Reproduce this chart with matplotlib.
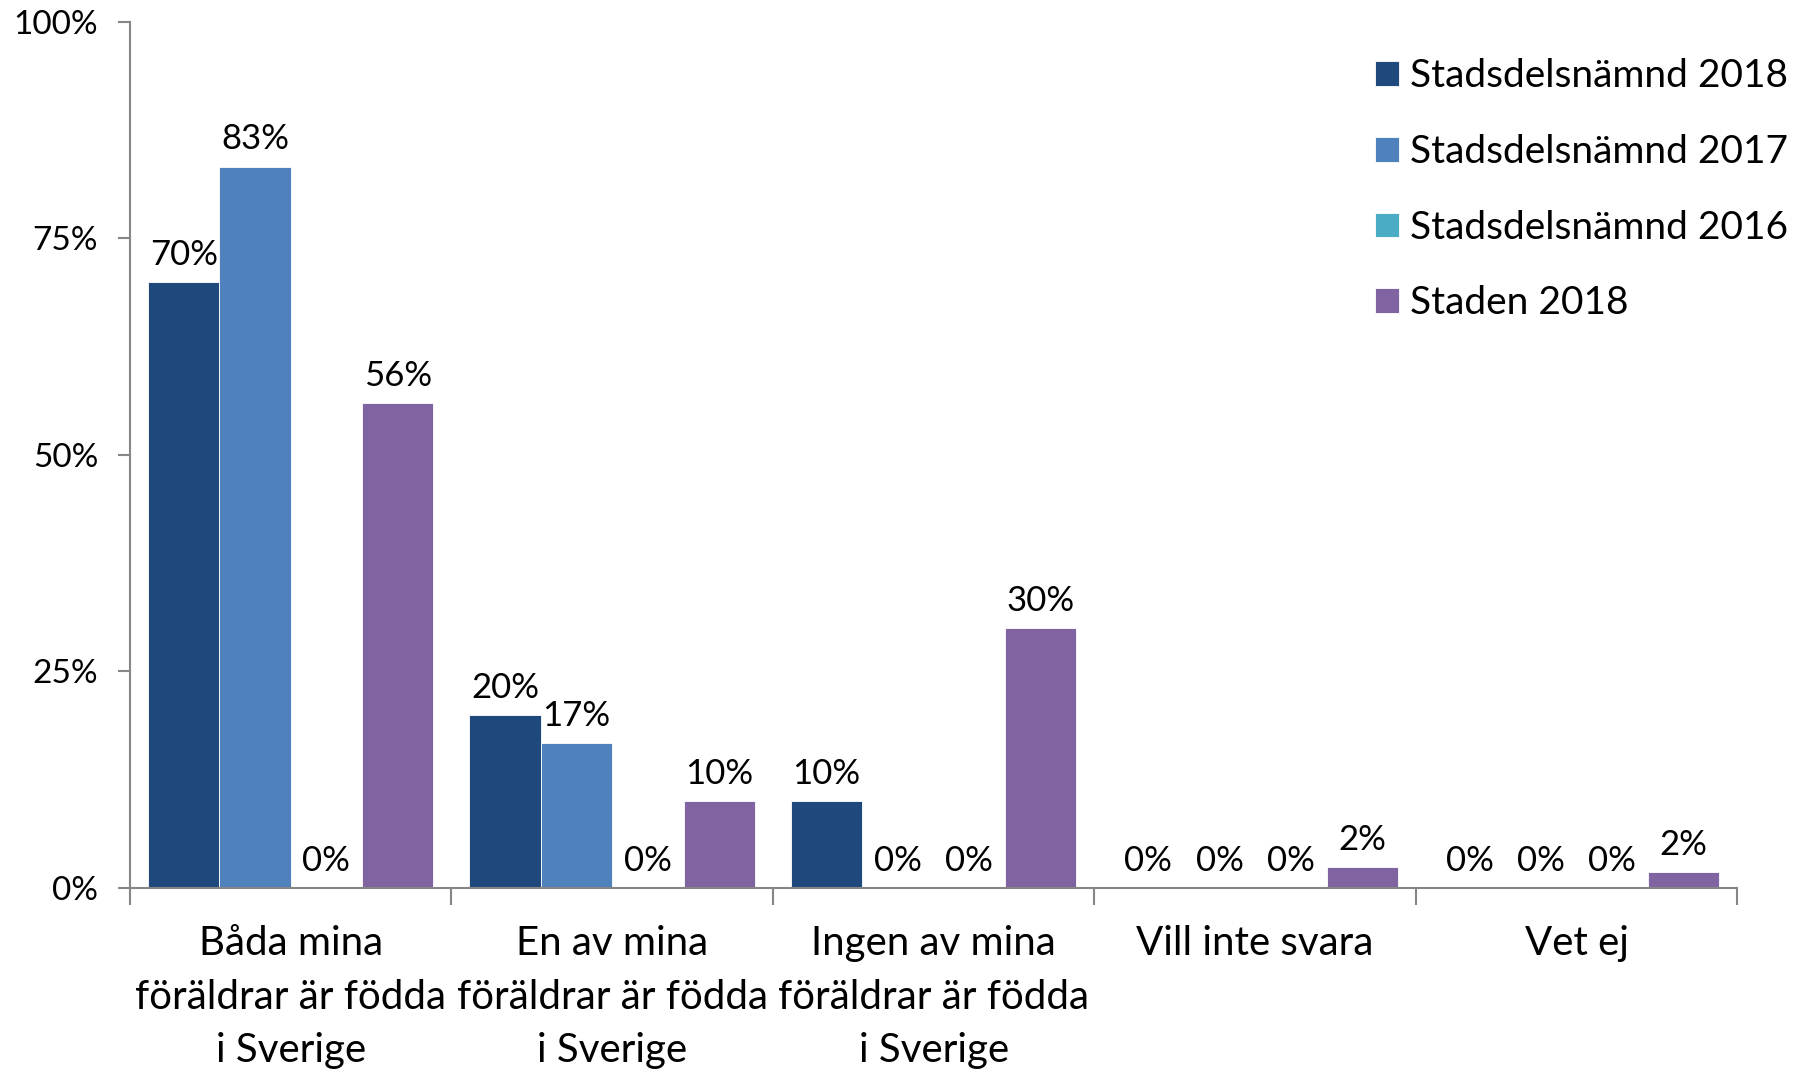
import numpy as np
import matplotlib.pyplot as plt

plt.rcParams['font.family'] = ['Lato', 'DejaVu Sans']

categories = ['Båda mina\nföräldrar är födda\ni Sverige',
              'En av mina\nföräldrar är födda\ni Sverige',
              'Ingen av mina\nföräldrar är födda\ni Sverige',
              'Vill inte svara',
              'Vet ej']
series = ['Stadsdelsnämnd 2018', 'Stadsdelsnämnd 2017', 'Stadsdelsnämnd 2016', 'Staden 2018']
sdn_2018 = [70, 20, 10, 0, 0]
sdn_2017 = [83.3, 16.7, 0, 0, 0]
sdn_2016 = [0, 0, 0, 0, 0]
staden_2018 = [56, 10, 30, 2.4, 1.8]
colors = ['#1F497D', '#4F81BD', '#4BACC6', '#8064A2']

values = [sdn_2018, sdn_2017, sdn_2016, staden_2018]

fig = plt.figure(figsize=(18.13, 10.71), dpi=100)
ax = fig.add_axes([0.0717, 0.1709, 0.8866, 0.8086])

x = np.arange(len(categories))
w = 0.222
for i, (vals, name, c) in enumerate(zip(values, series, colors)):
    pos = x + (i - 1.5) * w
    ax.bar(pos, vals, width=w, color=c, label=name, edgecolor='white', linewidth=0.6)
    for px, v in zip(pos, vals):
        ax.annotate('%d%%' % round(v), (px, v), xytext=(0, 8), textcoords='offset points',
                    ha='center', va='bottom', fontsize=25)

ax.set_xlim(-0.5, len(categories) - 0.5)
ax.set_ylim(0, 100)
ax.set_yticks([0, 25, 50, 75, 100])
ax.set_yticklabels(['0%', '25%', '50%', '75%', '100%'], fontsize=24)

# category ticks at the boundaries, labels in the middle
ax.set_xticks(np.arange(len(categories) + 1) - 0.5)
ax.set_xticklabels([])
ax.set_xticks(x, minor=True)
ax.set_xticklabels(categories, minor=True, fontsize=29, linespacing=1.55)
ax.tick_params(axis='x', which='minor', length=0, pad=27)
ax.tick_params(axis='x', which='major', length=12, color='#868686', width=1.5)
ax.tick_params(axis='y', length=9, color='#868686', width=1.5, pad=14)

for s in ['top', 'right']:
    ax.spines[s].set_visible(False)
for s in ['left', 'bottom']:
    ax.spines[s].set_color('#868686')
    ax.spines[s].set_linewidth(1.5)

ax.legend(loc='upper left', bbox_to_anchor=(0.765, 0.976), frameon=False, fontsize=28,
          handlelength=0.6, handleheight=0.6, handletextpad=0.3, labelspacing=1.02,
          borderaxespad=0)

plt.savefig('out.png')
